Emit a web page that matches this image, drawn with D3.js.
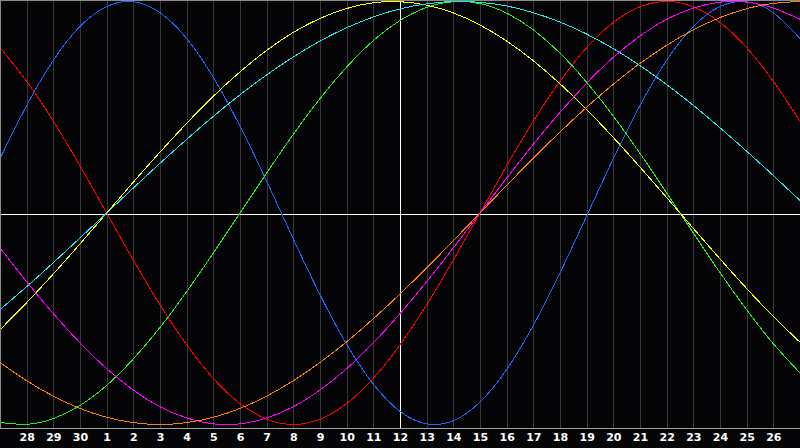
<!DOCTYPE html>
<html><head><meta charset="utf-8">
<script src="https://cdn.jsdelivr.net/npm/d3@7"></script>
<style>html,body{margin:0;padding:0;background:#050508;overflow:hidden}svg{display:block}</style>
</head><body>
<svg id="c" width="800" height="448"></svg>
<script>
// Day labels for the 31 sample points (index 0 .. 30)
const days = [27,28,29,30,1,2,3,4,5,6,7,8,9,10,11,12,13,14,15,16,17,18,19,20,21,22,23,24,25,26,27];
const todayIndex = 15; // day 12
// Series values (one per day)
const physical   = [0.257,0.508,0.722,0.882,0.976,0.999,0.947,0.825,0.641,0.411,0.150,-0.123,-0.386,-0.621,-0.809,-0.938,-0.997,-0.982,-0.894,-0.740,-0.531,-0.283,-0.014,0.257,0.508,0.722,0.882,0.976,0.999,0.947,0.825];
const emotional  = [0.782,0.623,0.434,0.223,0,-0.223,-0.434,-0.623,-0.782,-0.901,-0.975,-1,-0.975,-0.901,-0.782,-0.623,-0.434,-0.223,0,0.223,0.434,0.623,0.782,0.901,0.975,1,0.975,0.901,0.782,0.623,0.434];
const intellectual = [-0.990,-0.999,-0.972,-0.910,-0.815,-0.690,-0.541,-0.372,-0.189,0,0.189,0.372,0.541,0.690,0.815,0.910,0.972,0.999,0.990,0.945,0.866,0.756,0.618,0.458,0.282,0.095,-0.095,-0.282,-0.458,-0.618,-0.756];
const aesthetic  = [-0.552,-0.424,-0.288,-0.146,0,0.146,0.288,0.424,0.552,0.667,0.769,0.854,0.920,0.967,0.994,0.999,0.983,0.946,0.889,0.813,0.720,0.611,0.489,0.357,0.217,0.073,-0.073,-0.217,-0.357,-0.489,-0.611];
const spiritual  = [-0.457,-0.348,-0.235,-0.118,0,0.118,0.235,0.348,0.457,0.559,0.653,0.738,0.813,0.876,0.927,0.965,0.989,1.000,0.996,0.979,0.947,0.903,0.846,0.777,0.697,0.607,0.509,0.403,0.292,0.177,0.059];
const intuitive  = [-0.165,-0.325,-0.476,-0.614,-0.736,-0.837,-0.916,-0.969,-0.997,-0.997,-0.969,-0.916,-0.837,-0.736,-0.614,-0.476,-0.325,-0.165,0,0.165,0.325,0.476,0.614,0.736,0.837,0.916,0.969,0.997,0.997,0.969,0.916];
const awareness  = [-0.707,-0.793,-0.866,-0.924,-0.966,-0.991,-1,-0.991,-0.966,-0.924,-0.866,-0.793,-0.707,-0.609,-0.5,-0.383,-0.259,-0.131,0,0.131,0.259,0.383,0.5,0.609,0.707,0.793,0.866,0.924,0.966,0.991,1];

const series = [
  {name:"physical", values:physical, color:"#1a66ff"},
  {name:"emotional", values:emotional, color:"#ff0000"},
  {name:"intellectual", values:intellectual, color:"#22ee22"},
  {name:"aesthetic", values:aesthetic, color:"#ffff00"},
  {name:"spiritual", values:spiritual, color:"#22e8e8"},
  {name:"intuitive", values:intuitive, color:"#ff00ff"},
  {name:"awareness", values:awareness, color:"#ff8000"}
];

const W = 800, plotBottom = 428;
const svg = d3.select("#c");
svg.append("rect").attr("width",W).attr("height",448).attr("fill","#050508");

const x = d3.scaleLinear().domain([0, days.length-1]).range([0, W]);
const y = d3.scaleLinear().domain([-1, 1]).range([424.5, 1.5]);

// vertical day grid
const gridIdx = d3.range(1, days.length-1);
svg.append("g").selectAll("line").data(gridIdx).join("line")
  .attr("x1", d => Math.round(x(d)) + 0.5).attr("x2", d => Math.round(x(d)) + 0.5)
  .attr("y1", 0).attr("y2", plotBottom)
  .attr("stroke", d => d === todayIndex ? "#ffffff" : "#383838")
  .attr("stroke-width", 1);

// zero line
svg.append("line").attr("x1",0).attr("x2",W).attr("y1",214.5).attr("y2",214.5)
  .attr("stroke","#ffffff").attr("stroke-width",1);

// curves
const line = d3.line().x((d,i) => x(i)).y(d => y(d)).curve(d3.curveNatural);
svg.append("g").selectAll("path").data(series).join("path")
  .attr("d", d => line(d.values))
  .attr("fill","none").attr("stroke", d => d.color).attr("stroke-width",1)
  .attr("shape-rendering","crispEdges");

// re-draw today line above? keep white vertical on top of grid only
// borders
svg.append("line").attr("x1",0.5).attr("x2",0.5).attr("y1",0).attr("y2",plotBottom).attr("stroke","#8a8a8a");
svg.append("line").attr("x1",0).attr("x2",W).attr("y1",0.5).attr("y2",0.5).attr("stroke","#8a8a8a");
svg.append("line").attr("x1",0).attr("x2",W).attr("y1",plotBottom+0.5).attr("y2",plotBottom+0.5).attr("stroke","#a0a0a0");

// axis labels
const axis = d3.axisBottom(x).tickValues(gridIdx).tickFormat(i => days[i]).tickSize(0).tickPadding(0);
const ag = svg.append("g").attr("transform", `translate(0,${plotBottom+5})`).call(axis);
ag.select(".domain").remove();
ag.selectAll("text").attr("fill","#ffffff").attr("font-family","'DejaVu Sans', sans-serif")
  .attr("font-weight","bold").attr("font-size","11px").attr("dy","0.71em");
</script>
</body></html>
